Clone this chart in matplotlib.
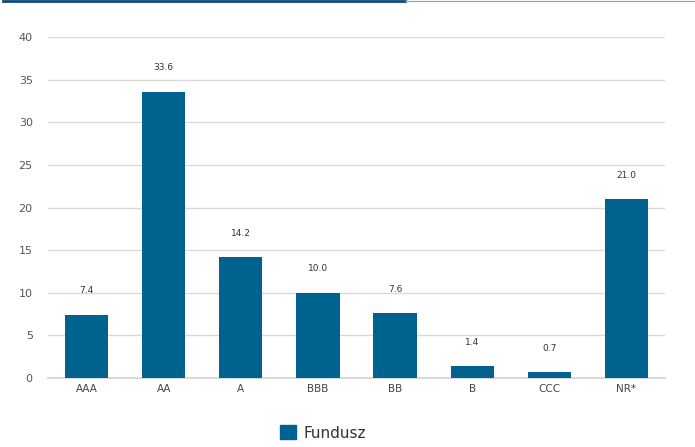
import matplotlib
matplotlib.use("Agg")
import matplotlib.pyplot as plt
from matplotlib.lines import Line2D
from matplotlib.patches import Patch

categories = ["AAA", "AA", "A", "BBB", "BB", "B", "CCC", "NR*"]
values = [7.4, 33.6, 14.2, 10.0, 7.6, 1.4, 0.7, 21.0]
yticks = [0, 5, 10, 15, 20, 25, 30, 35, 40]
series_name = "Fundusz"

W, H = 695, 447
fig = plt.figure(figsize=(W / 100, H / 100), dpi=100)
ax = fig.add_axes([48 / W, 1 - 378 / H, (665 - 48) / W, (378 - 37) / H])

color = "#00628f"
x = range(len(categories))
ax.bar(x, values, width=0.56, color=color, zorder=3)
for xi, v in zip(x, values):
    ax.annotate(f"{v:.1f}", (xi, v), xytext=(0, 14), textcoords="offset points",
                ha="center", va="bottom", fontsize=6.5, color="#333333")

ax.set_xlim(-0.5, len(categories) - 0.5)
ax.set_ylim(0, 40)
ax.set_yticks(yticks)
ax.set_yticklabels([str(t) for t in yticks], fontsize=8, color="#555555")
ax.set_xticks(list(x))
ax.set_xticklabels(categories, fontsize=7.5, color="#444444")
ax.grid(axis="y", color="#d9d9d9", linewidth=1, zorder=0)
for s in ["top", "right", "left"]:
    ax.spines[s].set_visible(False)
ax.spines["bottom"].set_color("#d9d9d9")
ax.spines["bottom"].set_linewidth(1.5)
ax.tick_params(axis="both", length=0, pad=4)
ax.tick_params(axis="y", pad=11)

# top decorative lines
fig.add_artist(Line2D([3 / W, 405 / W], [1 - 1 / H, 1 - 1 / H], color="#0d4680", linewidth=2.0))
fig.add_artist(Line2D([405 / W, 1.0], [1 - 1.2 / H, 1 - 1.2 / H], color="#8aa0b8", linewidth=0.8))

handle = Patch(facecolor=color, edgecolor=color)
fig.legend([handle], [series_name], loc="center", bbox_to_anchor=(0.465, 1 - 433 / H),
           frameon=False, fontsize=11, handlelength=1.0, handleheight=1.0,
           handletextpad=0.5, labelcolor="#333333")

fig.savefig("out.png", dpi=100)
